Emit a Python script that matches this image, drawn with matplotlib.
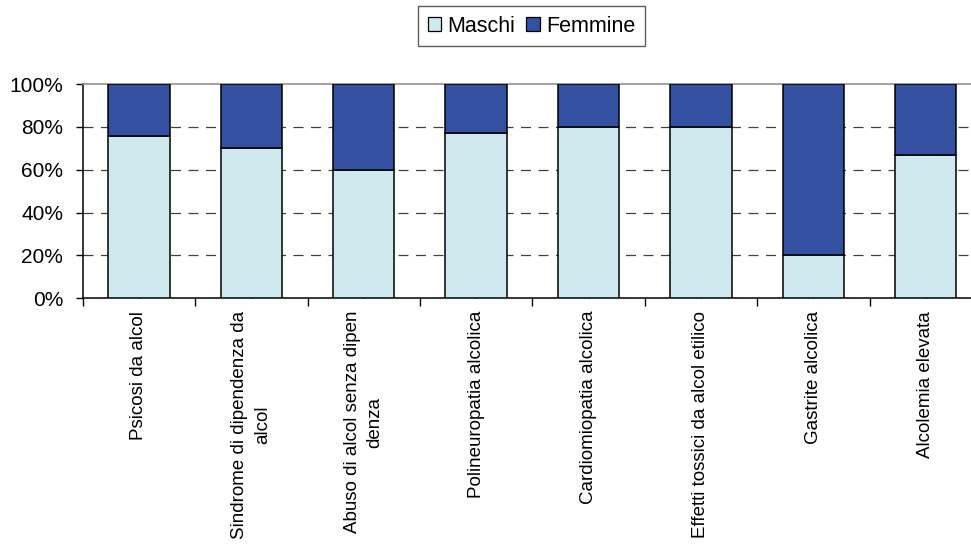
import matplotlib
matplotlib.use("Agg")
import matplotlib.pyplot as plt
from matplotlib.patches import Patch
from matplotlib.ticker import FixedLocator, FuncFormatter

categories = [
    "Psicosi da alcol",
    "Sindrome di dipendenza da\nalcol",
    "Abuso di alcol senza dipen\ndenza",
    "Polineuropatia alcolica",
    "Cardiomiopatia alcolica",
    "Effetti tossici da alcol etilico",
    "Gastrite alcolica",
    "Alcolemia elevata",
]
maschi = [75.6, 70.0, 60.0, 77.3, 80.0, 80.0, 20.0, 66.7]
femmine = [24.4, 30.0, 40.0, 22.7, 20.0, 20.0, 80.0, 33.3]
series_names = ["Maschi", "Femmine"]
yticks = [0, 20, 40, 60, 80, 100]

plt.rcParams['font.family'] = ['Liberation Sans', 'DejaVu Sans']

W, H = 971, 545
fig = plt.figure(figsize=(W / 100, H / 100), dpi=100)
left = 82.7 / W
bottom = (H - 298.3) / H
top = (H - 84) / H
width = 8 * 112.4 / W
ax = fig.add_axes([left, bottom, width, top - bottom])

light = "#d0e9ee"
dark = "#3450a0"
x = list(range(len(categories)))
ax.bar(x, maschi, width=0.545, color=light, edgecolor="black", linewidth=1.1, zorder=3)
ax.bar(x, femmine, bottom=maschi, width=0.545, color=dark, edgecolor="black", linewidth=1.1, zorder=3)

ax.set_xlim(-0.5, len(categories) - 0.5)
ax.set_ylim(0, 100)

for yv in yticks[1:-1]:
    ax.axhline(yv, color="#404040", lw=0.9, linestyle=(0, (8, 6)), zorder=1)

ax.yaxis.set_major_locator(FixedLocator(yticks))
ax.yaxis.set_major_formatter(FuncFormatter(lambda v, p: f"{int(v)}%"))
ax.tick_params(axis='y', direction='out', length=4.8, width=1, pad=9.2, labelsize=15)

ax.set_xticks(x)
ax.set_xticklabels(categories, rotation=90, ha='center', va='top',
                   multialignment='center', linespacing=1.45, fontsize=13.5)
ax.tick_params(axis='x', which='major', direction='in', length=4, width=1, pad=9)
ax.set_xticks([i - 0.5 for i in range(len(categories) + 1)], minor=True)
ax.tick_params(axis='x', which='minor', direction='out', length=6, width=1)

for s in ['left', 'bottom']:
    ax.spines[s].set_color('black')
    ax.spines[s].set_linewidth(1.1)
ax.spines['top'].set_color('#909090')
ax.spines['top'].set_linewidth(1.2)
ax.spines['right'].set_color('#909090')
ax.spines['right'].set_linewidth(1.2)

handles = [Patch(facecolor=light, edgecolor='black', linewidth=0.9),
           Patch(facecolor=dark, edgecolor='black', linewidth=0.9)]
leg = fig.legend(handles, series_names, loc='upper center',
                 bbox_to_anchor=(531.5 / W, 1 - 6 / H), ncol=2, fontsize=15.5,
                 frameon=True, fancybox=False, edgecolor='#333333',
                 handlelength=0.62, handleheight=0.62, handletextpad=0.3,
                 columnspacing=0.5, borderpad=0.45, borderaxespad=0)
leg.get_frame().set_linewidth(1.0)

fig.savefig("out.png", dpi=100)
